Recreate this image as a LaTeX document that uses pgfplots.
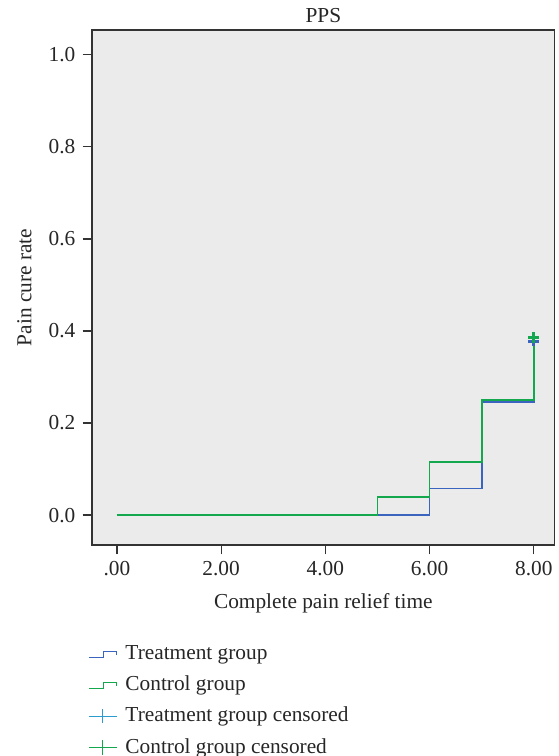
\documentclass[border=0pt]{standalone}
\usepackage{fontspec}
\setmainfont{Liberation Serif}
\usepackage{pgfplots}
\pgfplotsset{compat=1.18}
\definecolor{treat}{HTML}{3A64BE}
\definecolor{ctrl}{HTML}{14A84E}
\definecolor{treatc}{HTML}{2A9CCF}
\definecolor{panel}{HTML}{EBEBEB}
\definecolor{frame}{HTML}{333333}
\begin{document}
\fontsize{16}{19}\selectfont
\begin{tikzpicture}
  % fixed page size (558 x 756 px at 0.75pt per px)
  \path[use as bounding box] (-69pt,-158.25pt) rectangle (349.5pt,408.75pt);
  \begin{axis}[
      scale only axis,
      width=347pt, height=386.25pt,
      xmin=-0.478, xmax=8.4,
      ymin=-0.065, ymax=1.054,
      axis background/.style={fill=panel},
      axis line style={frame, line width=0.9pt},
      xtick pos=bottom, ytick pos=left,
      xtick={0,2,4,6,8},
      xticklabels={.00,2.00,4.00,6.00,8.00},
      ytick={0,0.2,0.4,0.6,0.8,1.0},
      yticklabel style={/pgf/number format/.cd,fixed,fixed zerofill,precision=1},
      /pgf/number format/assume math mode=true,
      tick align=outside,
      major tick length=7pt,
      tick style={frame, line width=0.9pt},
      ticklabel style={font=\fontsize{16}{19}\selectfont, text=black!85},
      xlabel={Complete pain relief time},
      ylabel={Pain cure rate},
      label style={font=\fontsize{16}{19}\selectfont, text=black!85},
      xlabel style={yshift=-2pt},
      ylabel style={yshift=2pt},
      title={PPS},
      title style={font=\fontsize{16}{19}\selectfont, text=black!85, yshift=-6pt},
      legend cell align=left,
      legend style={at={(0,0)}, anchor=north west, xshift=-6pt, yshift=-71pt,
        draw=none, fill=none, font=\fontsize{16}{19}\selectfont,
        row sep=6pt, text=black!85,
        nodes={inner xsep=6pt}},
      clip=false,
    ]
    \addplot[const plot, treat, line width=1.3pt,
      legend image code/.code={
        \draw[treat, line width=0.9pt] (0pt,-3pt) -- (11pt,-3pt) -- (11pt,2pt) -- (21pt,2pt) -- (21pt,-1pt);}]
      coordinates {(0,0) (6,0.058) (7,0.246) (8,0.378)};
    \addlegendentry{Treatment group}
    \addplot[const plot, ctrl, line width=1.3pt,
      legend image code/.code={
        \draw[ctrl, line width=0.9pt] (0pt,-3pt) -- (11pt,-3pt) -- (11pt,2pt) -- (21pt,2pt) -- (21pt,-1pt);}]
      coordinates {(0,0) (5,0.040) (6,0.116) (7,0.250) (8,0.385)};
    \addlegendentry{Control group}
    \addplot[only marks, mark=+, mark size=4pt, treat,
      mark options={line width=2.2pt},
      legend image code/.code={
        \draw[treatc, line width=0.9pt] (0pt,0pt) -- (21pt,0pt) (10.5pt,-5.5pt) -- (10.5pt,5.5pt);}]
      coordinates {(8,0.378)};
    \addlegendentry{Treatment group censored}
    \addplot[only marks, mark=+, mark size=4pt, ctrl,
      mark options={line width=2.2pt},
      legend image code/.code={
        \draw[ctrl, line width=0.9pt] (0pt,0pt) -- (21pt,0pt) (10.5pt,-5.5pt) -- (10.5pt,5.5pt);}]
      coordinates {(8,0.386)};
    \addlegendentry{Control group censored}
  \end{axis}
\end{tikzpicture}
\end{document}
